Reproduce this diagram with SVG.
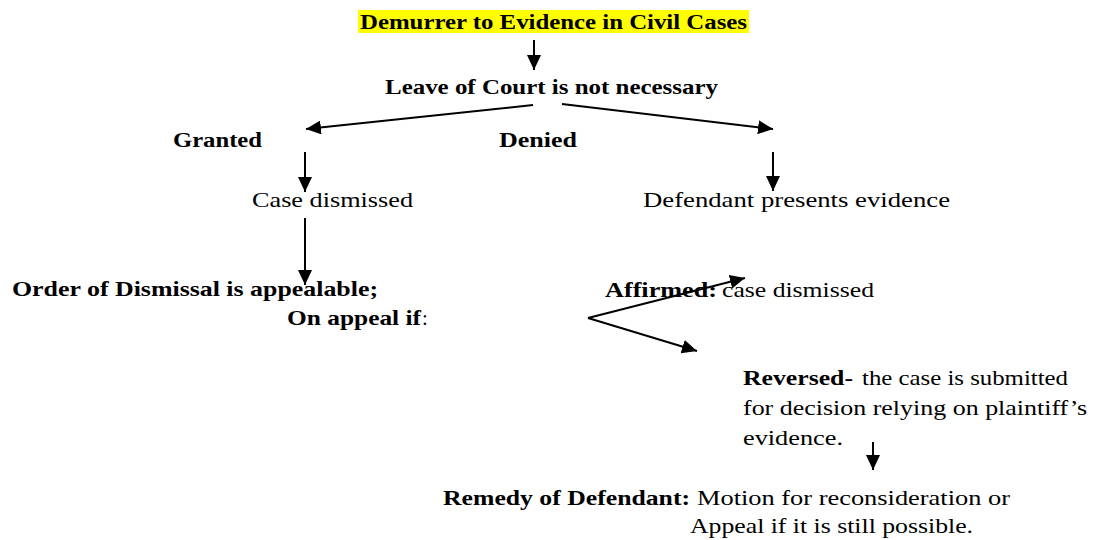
<svg xmlns="http://www.w3.org/2000/svg" width="1098" height="540" viewBox="0 0 1098 540">
<style>
text{font-family:"Liberation Serif","Times New Roman",serif;font-size:21px;fill:#000}
.b{font-weight:bold}
.c{stroke:#000;stroke-width:2;fill:none;marker-end:url(#ah)}
</style>
<defs>
<marker id="ah" markerUnits="userSpaceOnUse" markerWidth="16" markerHeight="14" refX="15" refY="7" orient="auto">
<path d="M0,0 L15,7 L0,14 z" fill="#000"/>
</marker>
</defs>
<rect width="1098" height="540" fill="#fff"/>
<g id="connectors">
<line class="c" x1="534" y1="40" x2="534" y2="70"/>
<line class="c" x1="533" y1="105" x2="306" y2="129"/>
<line class="c" x1="562" y1="104" x2="773" y2="129"/>
<line class="c" x1="305" y1="152" x2="305" y2="192"/>
<line class="c" x1="773" y1="152" x2="773" y2="191"/>
<line class="c" x1="305" y1="218" x2="305" y2="285"/>
<polyline class="c" points="588,318 745,278"/>
<line class="c" x1="588" y1="318" x2="697" y2="351"/>
<line class="c" x1="873" y1="442" x2="873" y2="470"/>
</g>
<g id="title">
<rect x="358" y="10" width="391" height="23" fill="#ffff00"/>
<text class="b" x="360" y="29" textLength="387" lengthAdjust="spacingAndGlyphs">Demurrer to Evidence in Civil Cases</text>
</g>
<g id="leave">
<text class="b" x="385" y="94" textLength="333" lengthAdjust="spacingAndGlyphs">Leave of Court is not necessary</text>
</g>
<g id="granted">
<text class="b" x="173" y="147" textLength="89" lengthAdjust="spacingAndGlyphs">Granted</text>
</g>
<g id="denied">
<text class="b" x="499" y="147" textLength="78" lengthAdjust="spacingAndGlyphs">Denied</text>
</g>
<g id="case-dismissed">
<text x="252" y="207" textLength="161" lengthAdjust="spacingAndGlyphs">Case dismissed</text>
</g>
<g id="defendant-presents">
<text x="643" y="207" textLength="307" lengthAdjust="spacingAndGlyphs">Defendant presents evidence</text>
</g>
<g id="order-dismissal">
<text class="b" x="12" y="296" textLength="366" lengthAdjust="spacingAndGlyphs">Order of Dismissal is appealable;</text>
<text class="b" x="287" y="325" textLength="134" lengthAdjust="spacingAndGlyphs">On appeal if</text>
<text x="422" y="325">:</text>
</g>
<g id="affirmed">
<text class="b" x="605" y="297" textLength="112" lengthAdjust="spacingAndGlyphs">Affirmed:</text>
<text x="722" y="297" textLength="152" lengthAdjust="spacingAndGlyphs">case dismissed</text>
</g>
<g id="reversed">
<text class="b" x="743" y="385" textLength="110" lengthAdjust="spacingAndGlyphs">Reversed-</text>
<text x="862" y="385" textLength="206" lengthAdjust="spacingAndGlyphs">the case is submitted</text>
<text x="743" y="415" textLength="344" lengthAdjust="spacingAndGlyphs">for decision relying on plaintiff’s</text>
<text x="743" y="445" textLength="100" lengthAdjust="spacingAndGlyphs">evidence.</text>
</g>
<g id="remedy">
<text class="b" x="443" y="505" textLength="247" lengthAdjust="spacingAndGlyphs">Remedy of Defendant:</text>
<text x="697" y="505" textLength="313" lengthAdjust="spacingAndGlyphs">Motion for reconsideration or</text>
<text x="690" y="533" textLength="283" lengthAdjust="spacingAndGlyphs">Appeal if it is still possible.</text>
</g>
</svg>
